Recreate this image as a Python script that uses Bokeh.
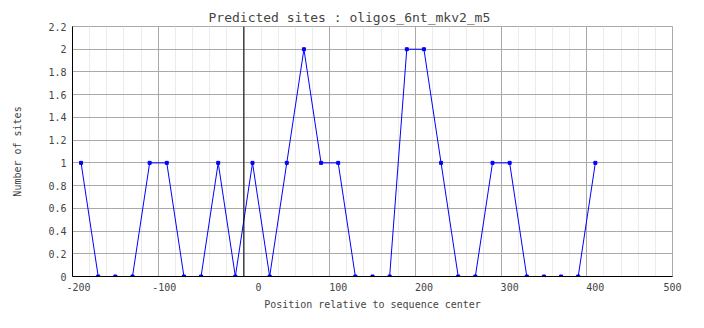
from bokeh.plotting import figure
from bokeh.models import FixedTicker, Span, Range1d, Title
from bokeh.embed import file_html
from bokeh.resources import INLINE

# ---- data ----
positions = [-190, -170, -150, -130, -110, -90, -70, -50, -30, -10, 10, 30, 50, 70, 90,
             110, 130, 150, 170, 190, 210, 230, 250, 270, 290, 310, 330, 350, 370, 390, 410]
sites = [1, 0, 0, 0, 1, 1, 0, 0, 1, 0, 1, 0, 1, 2, 1,
         1, 0, 0, 0, 2, 2, 1, 0, 0, 1, 1, 0, 0, 0, 0, 1]

x_ticks = [-200, -100, 0, 100, 200, 300, 400, 500]
x_tick_labels = ["-200", "-100", "0", "100", "200", "300", "400", "500"]
x_minor_ticks = [-180, -160, -140, -120, -80, -60, -40, -20, 20, 40, 60, 80,
                 120, 140, 160, 180, 220, 240, 260, 280, 320, 340, 360, 380,
                 420, 440, 460, 480]
y_ticks = [0, 0.2, 0.4, 0.6, 0.8, 1, 1.2, 1.4, 1.6, 1.8, 2, 2.2]
y_tick_labels = ["0", "0.2", "0.4", "0.6", "0.8", "1", "1.2", "1.4", "1.6", "1.8", "2", "2.2"]

title_text = "Predicted sites : oligos_6nt_mkv2_m5"
x_title = "Position relative to sequence center"
y_title = "Number of sites"

FONT = "DejaVu Sans Mono"
GRID = "#a9a9a9"
MINOR = "#ececec"
X0, X1 = -200, 500
FRAME_W = 600
UNITS_PER_PX = (X1 - X0) / FRAME_W
CHAR_W = 6

p = figure(width=704, height=328, output_backend="svg", toolbar_location=None,
           x_range=Range1d(X0, X1), y_range=Range1d(0, 2.2),
           min_border_left=72, min_border_right=32, min_border_top=26,
           min_border_bottom=52, title=None)
p.add_layout(Title(text=title_text, text_font=FONT, text_font_size="13px",
                   text_font_style="normal", align="left", offset=136, standoff=3), "above")
p.background_fill_color = "white"
p.border_fill_color = "white"
p.outline_line_color = GRID

# The reference draws tick labels left-aligned at their grid lines
# (minus sign hanging to the left, "0" pushed right); place centred labels accordingly.
label_pos = []
for t, lab in zip(x_ticks, x_tick_labels):
    if lab.startswith("-"):
        px = -CHAR_W + len(lab) * CHAR_W / 2
    elif lab == "0":
        px = 11.5 + CHAR_W / 2
    else:
        px = len(lab) * CHAR_W / 2
    pos = int(round(t + px * UNITS_PER_PX))
    label_pos.append(min(max(pos, X0), X1))

p.xaxis.ticker = FixedTicker(ticks=label_pos)
p.xaxis.major_label_overrides = {pos: lab for pos, lab in zip(label_pos, x_tick_labels)}
p.xaxis.major_label_text_font = FONT
p.xaxis.major_label_text_font_size = "10px"
p.xaxis.major_label_standoff = 6
p.xaxis.major_tick_out = 0
p.xaxis.major_tick_in = 0
p.xaxis.minor_tick_out = 0
p.xaxis.minor_tick_in = 0
p.xaxis.axis_line_color = "black"
p.xaxis.axis_label = x_title
p.xaxis.axis_label_text_font = FONT
p.xaxis.axis_label_text_font_size = "10px"
p.xaxis.axis_label_text_font_style = "normal"
p.xaxis.axis_label_standoff = 5

p.yaxis.ticker = FixedTicker(ticks=y_ticks)
p.yaxis.major_label_overrides = {t: l for t, l in zip(y_ticks, y_tick_labels)}
p.yaxis.major_label_text_font = FONT
p.yaxis.major_label_text_font_size = "10px"
p.yaxis.major_label_standoff = 6
p.yaxis.major_tick_out = 0
p.yaxis.major_tick_in = 0
p.yaxis.minor_tick_out = 0
p.yaxis.minor_tick_in = 0
p.yaxis.axis_line_color = "black"
p.yaxis.axis_label = y_title
p.yaxis.axis_label_text_font = FONT
p.yaxis.axis_label_text_font_size = "10px"
p.yaxis.axis_label_text_font_style = "normal"
p.yaxis.axis_label_standoff = 22

p.xgrid.ticker = FixedTicker(ticks=x_ticks, minor_ticks=x_minor_ticks)
p.xgrid.grid_line_color = GRID
p.xgrid.minor_grid_line_color = MINOR
p.ygrid.grid_line_color = GRID

p.add_layout(Span(location=0, dimension="height", line_color="black", line_width=1))

p.line(positions, sites, line_color="#0000ff", line_width=1)
p.scatter(positions, sites, marker="square", size=3, fill_color="#0000ff",
          line_color="#0000ff")

open("out.html", "w").write(file_html(p, INLINE))
